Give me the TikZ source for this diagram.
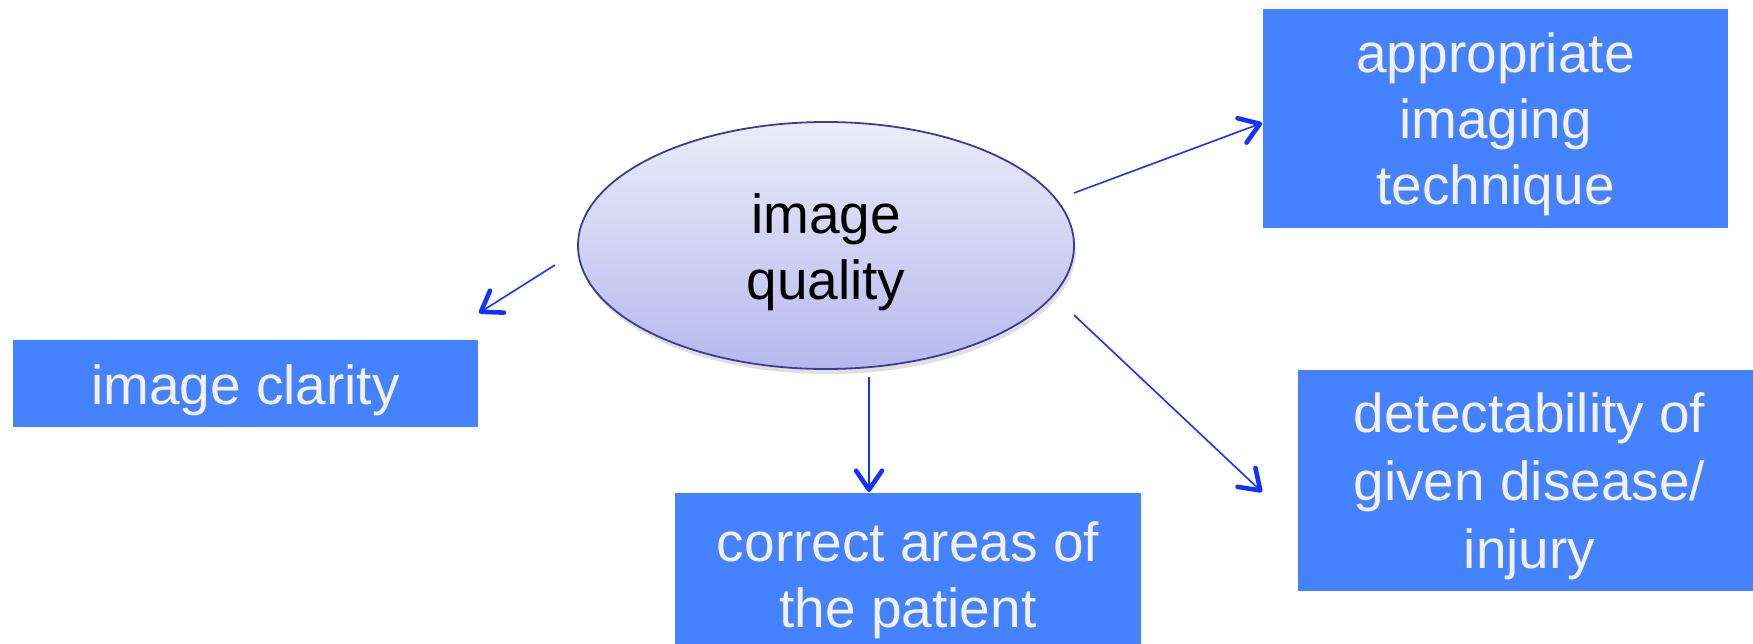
\documentclass[tikz,border=0pt]{standalone}
\usepackage{fontspec}
\setmainfont{Liberation Sans}
\usetikzlibrary{arrows.meta,shapes.geometric,shadows}
\definecolor{boxblue}{RGB}{68,130,255}
\definecolor{boxtext}{RGB}{243,240,240}
\definecolor{arrowblue}{RGB}{20,50,255}
\definecolor{elltop}{RGB}{236,236,250}
\definecolor{ellbot}{RGB}{182,184,236}
\definecolor{elldraw}{RGB}{58,60,160}
\tikzset{
  bigtext/.style={font=\fontsize{55}{66}\selectfont, align=center, inner sep=0pt},
  bluebox/.style={rectangle, fill=boxblue, inner sep=0pt},
  boxlabel/.style={bigtext, text=boxtext},
  qual/.style={ellipse, draw=elldraw, line width=1.8pt, top color=elltop, bottom color=ellbot,
    minimum width=496pt, minimum height=247pt, inner sep=0pt,
    drop shadow={opacity=0.25, shadow xshift=2pt, shadow yshift=-5pt}},
  arr/.style={draw=arrowblue, line width=1.6pt,
    -{Straight Barb[length=19pt, width=26pt, line width=4.6pt, round]}}
}
\begin{document}
\begin{tikzpicture}[x=1pt, y=-1pt]
\useasboundingbox (0,0) rectangle (1753,643);
\fill[white] (0,0) rectangle (1753,643);

\node[qual] (q) at (826,245.5) {};
\node[bigtext, text=black] (qt) at ([yshift=-7pt]q.center) {image\\quality};

\node[bluebox, minimum width=465pt, minimum height=219pt] (tech) at (1495.5,118.5) {};
\node[boxlabel] (techt) at ([yshift=-6pt]tech.center) {appropriate\\imaging\\technique};
\node[bluebox, minimum width=465pt, minimum height=87pt] (clar) at (245.5,383.5) {};
\node[boxlabel] (clart) at ([yshift=-7pt]clar.center) {image clarity};
\node[bluebox, minimum width=466pt, minimum height=164pt] (corr) at (908,575) {};
\node[boxlabel] (corrt) at ([yshift=-5pt]corr.center) {correct areas of\\the patient};
\node[bluebox, minimum width=455pt, minimum height=221pt] (det) at (1525.5,480.5) {};
\node[boxlabel, font=\fontsize{55}{68}\selectfont] (dett) at ([xshift=4pt,yshift=-6pt]det.center) {detectability of\\given disease/\\injury};

\coordinate (s1) at (555,265);
\coordinate (e1) at (479,313);
\coordinate (s2) at (869,377);
\coordinate (e2) at (869,492);
\coordinate (s3) at (1074,193);
\coordinate (e3) at (1262,123);
\coordinate (s4) at (1074,315);
\coordinate (e4) at (1262,492);

\draw[arr] (s1) -- (e1);
\draw[arr] (s2) -- (e2);
\draw[arr] (s3) -- (e3);
\draw[arr] (s4) -- (e4);
\end{tikzpicture}
\end{document}
